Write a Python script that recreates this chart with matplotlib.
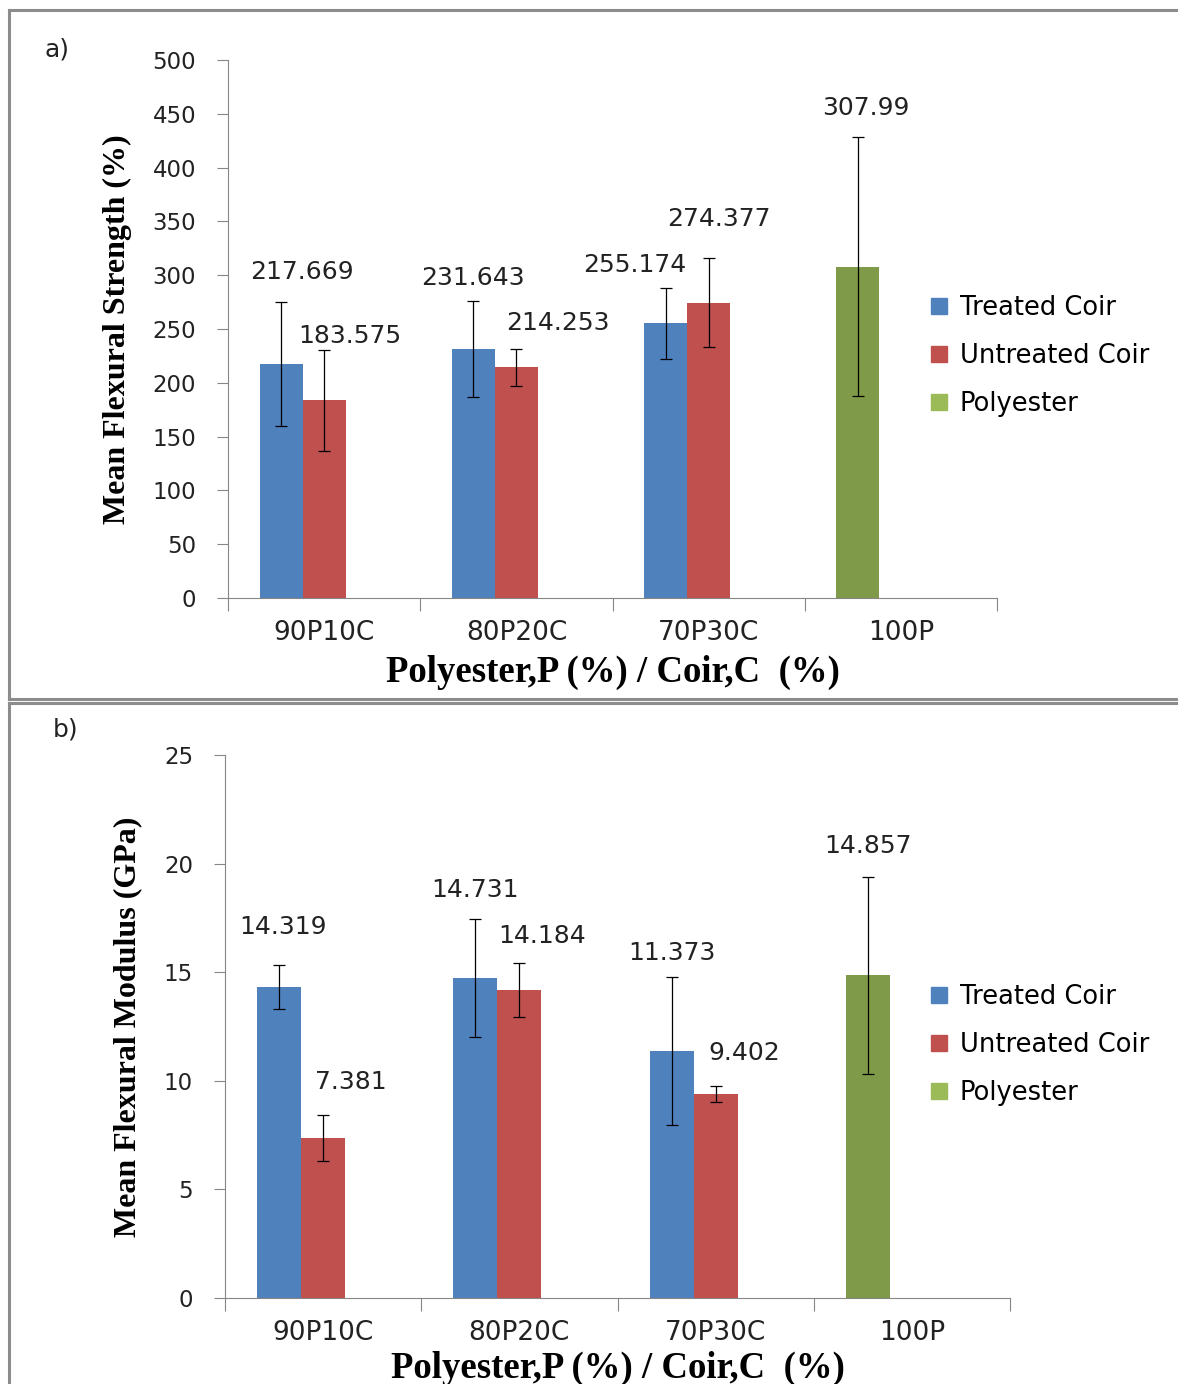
import matplotlib
matplotlib.use('Agg')
import matplotlib.pyplot as plt
from matplotlib.lines import Line2D

CATEGORIES = ['90P10C', '80P20C', '70P30C', '100P']
SERIES = ['Treated Coir', 'Untreated Coir', 'Polyester']

strength_treated = [217.669, 231.643, 255.174]
strength_treated_err = [57.7, 44.5, 32.7]
strength_untreated = [183.575, 214.253, 274.377]
strength_untreated_err = [46.5, 17.0, 41.5]
strength_polyester = 307.99
strength_polyester_err = 120.5

modulus_treated = [14.319, 14.731, 11.373]
modulus_treated_err = [1.0, 2.71, 3.4]
modulus_untreated = [7.381, 14.184, 9.402]
modulus_untreated_err = [1.06, 1.25, 0.36]
modulus_polyester = 14.857
modulus_polyester_err = 4.53

# data label nudges (pixels) for treated, untreated, polyester
STRENGTH_LABEL_SHIFT = [[(21, 30), (0, 23), (-31, 23)],
                        [(26, 14), (41, 26), (10, 39)],
                        [(8, 29)]]
MODULUS_LABEL_SHIFT = [[(4, 38), (0, 29), (0, 24)],
                       [(28, 33), (23, 27), (29, 33)],
                       [(0, 31)]]

COLORS = {'treated': '#4F81BD', 'untreated': '#C0504D',
          'polyester': '#7F9A48', 'polyester_key': '#9BBB59'}
AXIS_GREY = '#868686'
TEXT = '#222222'
BAR_W = 0.224
SANS = 'DejaVu Sans'
SERIF = 'Liberation Serif'


def put_label(ax, x, top, value, shift):
    ax.annotate(f'{value:g}', (x, top), xytext=shift, textcoords='offset pixels',
                ha='center', va='center', fontsize=18, family=SANS, color=TEXT)


def draw_panel(ax, treated, t_err, untreated, u_err, poly, p_err,
               ymax, ystep, ylabel, shifts, tag):
    n = len(treated)
    xt = [i - BAR_W for i in range(n)]
    xu = [i for i in range(n)]
    xp = 3 - BAR_W
    err_kw = dict(ecolor='black', elinewidth=0.9, capsize=4.5, capthick=0.9)
    ax.bar(xt, treated, BAR_W, yerr=t_err, color=COLORS['treated'], error_kw=err_kw, zorder=2)
    ax.bar(xu, untreated, BAR_W, yerr=u_err, color=COLORS['untreated'], error_kw=err_kw, zorder=2)
    ax.bar([xp], [poly], BAR_W, yerr=[p_err], color=COLORS['polyester'], error_kw=err_kw, zorder=2)

    for i in range(n):
        put_label(ax, xt[i], treated[i] + t_err[i], treated[i], shifts[0][i])
        put_label(ax, xu[i], untreated[i] + u_err[i], untreated[i], shifts[1][i])
    put_label(ax, xp, poly + p_err, poly, shifts[2][0])

    ax.set_xlim(-0.5, 3.5)
    ax.set_ylim(0, ymax)
    ax.set_yticks([v * ystep for v in range(int(ymax / ystep) + 1)])
    ax.set_xticks([-0.5, 0.5, 1.5, 2.5, 3.5])
    ax.set_xticklabels([])
    ax.set_xticks(range(4), minor=True)
    ax.set_xticklabels(CATEGORIES, minor=True, fontsize=19, family=SANS, color=TEXT)
    ax.tick_params(axis='x', which='major', length=9, color=AXIS_GREY)
    ax.tick_params(axis='x', which='minor', length=0, pad=16)
    ax.tick_params(axis='y', length=8, color=AXIS_GREY, pad=15, labelcolor=TEXT)
    for lab in ax.get_yticklabels():
        lab.set_family(SANS)
        lab.set_fontsize(16.5)

    ax.spines[['right', 'top']].set_visible(False)
    ax.spines[['left', 'bottom']].set_color(AXIS_GREY)

    ax.text(0.5, tag['xlab_y'], 'Polyester,P (%) / Coir,C  (%)', transform=ax.transAxes,
            ha='center', va='center', fontsize=26.5, family=SERIF, weight='bold')
    ax.text(tag['ylab_x'], 0.5, ylabel, transform=ax.transAxes, rotation=90,
            ha='center', va='center', fontsize=23, family=SERIF, weight='bold')

    handles = [Line2D([], [], marker='s', linestyle='none', markersize=12,
                      markerfacecolor=c, markeredgecolor=c)
               for c in (COLORS['treated'], COLORS['untreated'], COLORS['polyester_key'])]
    ax.legend(handles, SERIES, loc='center left', bbox_to_anchor=tag['legend'],
              bbox_transform=ax.figure.transFigure, frameon=False,
              prop={'family': SANS, 'size': 18.5}, handlelength=0.8,
              handletextpad=0.4, labelspacing=0.87, borderaxespad=0, borderpad=0)


def main():
    W, H = 1178, 1384
    fig = plt.figure(figsize=(W / 100, H / 100), dpi=100)

    ax_a = fig.add_axes([228 / W, 1 - 598 / H, 769 / W, 538 / H])
    ax_b = fig.add_axes([225 / W, 1 - 1298 / H, 785 / W, 543 / H])

    draw_panel(ax_a, strength_treated, strength_treated_err,
               strength_untreated, strength_untreated_err,
               strength_polyester, strength_polyester_err,
               500, 50, 'Mean Flexural Strength (%)', STRENGTH_LABEL_SHIFT,
               {'xlab_y': -0.139, 'ylab_x': -0.144, 'legend': (929 / W, 1 - 356 / H)})
    draw_panel(ax_b, modulus_treated, modulus_treated_err,
               modulus_untreated, modulus_untreated_err,
               modulus_polyester, modulus_polyester_err,
               25, 5, 'Mean Flexural Modulus (GPa)', MODULUS_LABEL_SHIFT,
               {'xlab_y': -0.129, 'ylab_x': -0.124, 'legend': (929 / W, 1 - 1045 / H)})

    fig.text(45 / W, 1 - 50 / H, 'a)', fontsize=18, family=SANS, va='center', color=TEXT)
    fig.text(53 / W, 1 - 730 / H, 'b)', fontsize=18, family=SANS, va='center', color=TEXT)

    # panel frames
    frame = dict(color='#8c8c8c', linewidth=2.2, transform=fig.transFigure)
    fig.add_artist(Line2D([9 / W, 1], [1 - 10 / H, 1 - 10 / H], **frame))
    fig.add_artist(Line2D([9 / W, 9 / W], [1 - 10 / H, 1 - 699 / H], **frame))
    fig.add_artist(Line2D([9 / W, 1], [1 - 699 / H, 1 - 699 / H], **frame))
    fig.add_artist(Line2D([9 / W, 1], [1 - 703 / H, 1 - 703 / H], **frame))
    fig.add_artist(Line2D([9 / W, 9 / W], [1 - 703 / H, 0], **frame))

    fig.savefig('out.png', dpi=100)


if __name__ == '__main__':
    main()
